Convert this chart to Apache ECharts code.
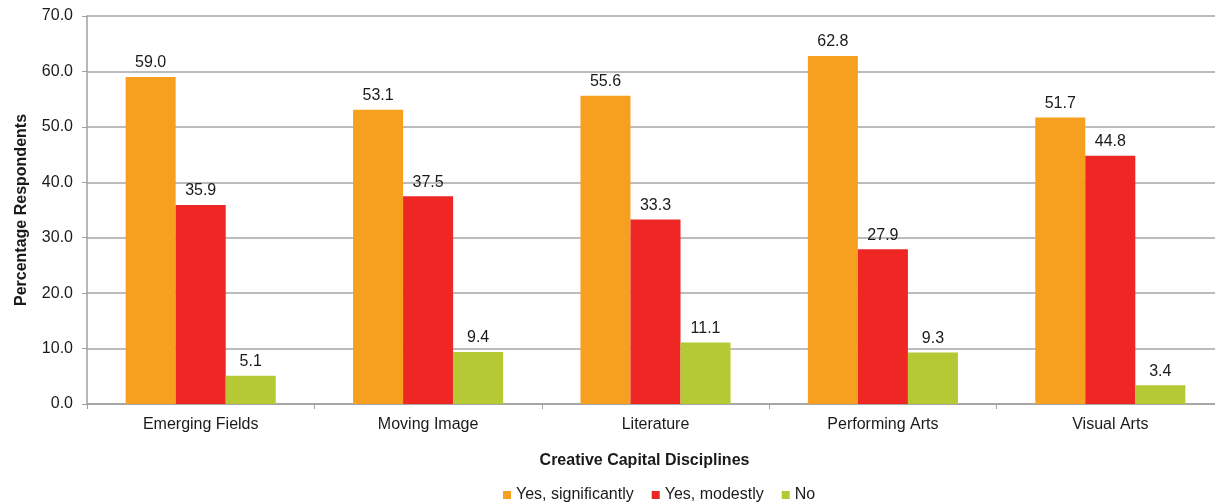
<!DOCTYPE html>
<html>
<head>
<meta charset="utf-8">
<script src="https://cdn.jsdelivr.net/npm/echarts@6/dist/echarts.min.js"></script>
<style>
  html, body { margin: 0; padding: 0; background: #fff; overflow: hidden; }
  /* canvas is a little wider than the window so the last category runs off the right edge */
  #chart { width: 1240px; height: 503px; }
</style>
</head>
<body>
<div id="chart"></div>
<script>
// Disciplines and response shares (%)
const categories = ['Emerging Fields', 'Moving Image', 'Literature', 'Performing Arts', 'Visual Arts'];
const yesSignificantly = [59.0, 53.1, 55.6, 62.8, 51.7];
const yesModestly = [35.9, 37.5, 33.3, 27.9, 44.8];
const no = [5.1, 9.4, 11.1, 9.3, 3.4];
const seriesNames = ['Yes, significantly', 'Yes, modestly', 'No'];
const seriesColors = ['#F7A01F', '#EE2624', '#B4C934'];

const FONT = 'Liberation Sans, Arial, sans-serif';
const chart = echarts.init(document.getElementById('chart'));

const label = {
  show: true,
  position: 'top',
  distance: 6,
  color: '#1a1a1a',
  fontFamily: FONT,
  fontSize: 16,
  formatter: p => p.value.toFixed(1)
};

chart.setOption({
  animation: false,
  textStyle: { fontFamily: FONT },
  grid: { left: 87, width: 1137, top: 16, bottom: 99, containLabel: false },
  legend: {
    top: 482,
    left: 498,
    itemWidth: 8,
    itemHeight: 8,
    itemGap: 18,
    icon: 'rect',
    textStyle: { fontSize: 16, color: '#1a1a1a', fontFamily: FONT },
    data: seriesNames
  },
  xAxis: {
    type: 'category',
    data: categories,
    name: 'Creative Capital Disciplines',
    nameLocation: 'middle',
    nameGap: 49,
    nameTextStyle: { fontWeight: 'bold', fontSize: 16, color: '#1a1a1a', padding: [0, 22, 0, 0] },
    axisLine: { lineStyle: { color: '#A0A0A0', width: 1.5 } },
    axisTick: { show: true, length: 5, lineStyle: { color: '#A0A0A0' } },
    axisLabel: { fontSize: 16, color: '#1a1a1a', margin: 13 }
  },
  yAxis: {
    type: 'value',
    min: 0,
    max: 70,
    interval: 10,
    name: 'Percentage Respondents',
    nameLocation: 'middle',
    nameGap: 57,
    nameTextStyle: { fontWeight: 'bold', fontSize: 16, color: '#1a1a1a' },
    axisLine: { show: true, lineStyle: { color: '#A0A0A0', width: 1.5 } },
    axisTick: { show: true, length: 5, lineStyle: { color: '#A0A0A0' } },
    axisLabel: { fontSize: 16, color: '#1a1a1a', margin: 14, formatter: v => v.toFixed(1) },
    splitLine: { lineStyle: { color: '#A6A6A6', width: 1.5 } }
  },
  series: [yesSignificantly, yesModestly, no].map((values, i) => ({
    name: seriesNames[i],
    type: 'bar',
    data: values,
    barGap: '0%',
    barCategoryGap: '34%',
    itemStyle: { color: seriesColors[i] },
    label: label
  }))
});
</script>
</body>
</html>
